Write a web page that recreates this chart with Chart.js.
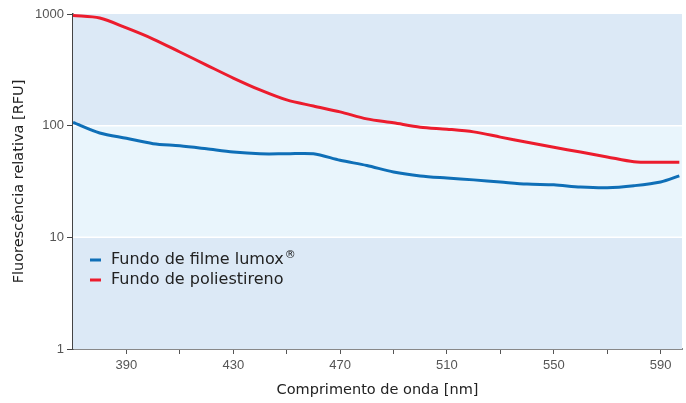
<!DOCTYPE html>
<html>
<head>
<meta charset="utf-8">
<script src="https://cdn.jsdelivr.net/npm/chart.js@4"></script>
<style>
  body { margin: 0; background: #fff; }
  #wrap { width: 686px; height: 403px; }
</style>
</head>
<body>
<div id="wrap"><canvas id="chart"></canvas></div>
<script>
// wavelengths (nm)
const wavelengths = [370, 380, 390, 400, 410, 420, 430, 440, 450, 460, 470, 480, 490, 500, 510, 520, 530, 540, 550, 560, 570, 580, 590, 597];
// lumox film bottom
const lumox = [107, 86, 77, 69, 66, 62, 58, 56, 56, 56, 49, 44, 38.5, 35.5, 34, 32.7, 31.3, 30, 29.5, 28.2, 27.8, 29, 31.3, 35.5];
// polystyrene bottom
const poly = [970, 920, 750, 597, 457, 349, 267, 209, 170, 150, 133, 115, 106, 97, 93, 88, 79, 71, 64, 58, 52.5, 47.5, 47, 47];
const seriesNames = ['Fundo de filme lumox', 'Fundo de poliestireno'];
const seriesMarks = ['®', ''];
const seriesColors = ['#0f6fb7', '#ec1c2d'];
const yTicks = [1, 10, 100, 1000];
const xTicks = [390, 410, 430, 450, 470, 490, 510, 530, 550, 570, 590];
const xLabels = [390, 430, 470, 510, 550, 590];

const tickFont = { family: "'Liberation Sans Narrow', 'Liberation Sans', Arial", size: 13 };
const titleFont = { family: "'DejaVu Sans', Verdana", size: 14.5 };

// background bands per decade
const bands = {
  id: 'bands',
  beforeDatasetsDraw(chart) {
    const c = chart.ctx, a = chart.chartArea, y = chart.scales.y;
    const cols = ['#dce9f6', '#e9f5fc', '#dce9f6'];
    for (let i = 0; i < 3; i++) {
      const top = y.getPixelForValue(yTicks[3 - i]);
      const bot = y.getPixelForValue(yTicks[2 - i]);
      c.fillStyle = cols[i];
      c.fillRect(a.left, top, a.right - a.left, bot - top);
    }
    c.strokeStyle = '#ffffff';
    c.lineWidth = 1.5;
    [100, 10].forEach(v => {
      const p = y.getPixelForValue(v);
      c.beginPath(); c.moveTo(a.left, p); c.lineTo(a.right, p); c.stroke();
    });
  }
};

// legend inside plot
const innerLegend = {
  id: 'innerLegend',
  afterDatasetsDraw(chart) {
    const c = chart.ctx, a = chart.chartArea;
    c.save();
    c.textBaseline = 'middle';
    seriesNames.forEach((n, i) => {
      const yy = a.top + 246 + i * 20;
      c.strokeStyle = seriesColors[i];
      c.lineWidth = 3;
      c.beginPath(); c.moveTo(a.left + 17, yy); c.lineTo(a.left + 28, yy); c.stroke();
      c.fillStyle = '#222';
      c.font = "16px 'DejaVu Sans', Verdana";
      c.fillText(n, a.left + 38, yy);
      if (seriesMarks[i]) {
        const w = c.measureText(n).width;
        c.font = "11px 'DejaVu Sans', Verdana";
        c.fillText(seriesMarks[i], a.left + 39 + w, yy - 5);
      }
    });
    c.restore();
  }
};

new Chart(document.getElementById('chart'), {
  type: 'line',
  data: {
    labels: wavelengths,
    datasets: [
      { label: seriesNames[0] + seriesMarks[0], data: wavelengths.map((w, i) => ({ x: w, y: lumox[i] })), borderColor: seriesColors[0] },
      { label: seriesNames[1], data: wavelengths.map((w, i) => ({ x: w, y: poly[i] })), borderColor: seriesColors[1] }
    ]
  },
  options: {
    responsive: true,
    maintainAspectRatio: false,
    animation: false,
    layout: { padding: { top: 14, right: 4, left: 0, bottom: 4 } },
    elements: {
      line: { borderWidth: 3, tension: 0.3, fill: false },
      point: { radius: 0 }
    },
    plugins: { legend: { display: false }, tooltip: { enabled: false } },
    scales: {
      x: {
        type: 'linear',
        min: 370,
        max: 598,
        afterBuildTicks(s) { s.ticks = xTicks.map(v => ({ value: v })); },
        afterFit(s) { s.height = 50; },
        ticks: {
          color: '#555',
          font: tickFont,
          padding: 4,
          autoSkip: false,
          maxRotation: 0,
          callback: v => xLabels.includes(v) ? String(v) : ''
        },
        grid: { drawOnChartArea: false, tickLength: 5, color: '#555' },
        border: { color: '#888', width: 2 },
        title: { display: true, text: 'Comprimento de onda [nm]', color: '#222', font: titleFont, padding: { top: 9, bottom: 0 } }
      },
      y: {
        type: 'logarithmic',
        min: 1,
        max: 1000,
        afterBuildTicks(s) { s.ticks = yTicks.map(v => ({ value: v })); },
        afterFit(s) { s.width = 73; },
        ticks: { color: '#555', font: tickFont, padding: 3, callback: v => String(v) },
        grid: { drawOnChartArea: false, tickLength: 6, color: '#444' },
        border: { color: '#444', width: 1.5 },
        title: { display: true, text: 'Fluorescência relativa [RFU]', color: '#222', font: titleFont, padding: { top: 11, bottom: 4 } }
      }
    }
  },
  plugins: [bands, innerLegend]
});
</script>
</body>
</html>
